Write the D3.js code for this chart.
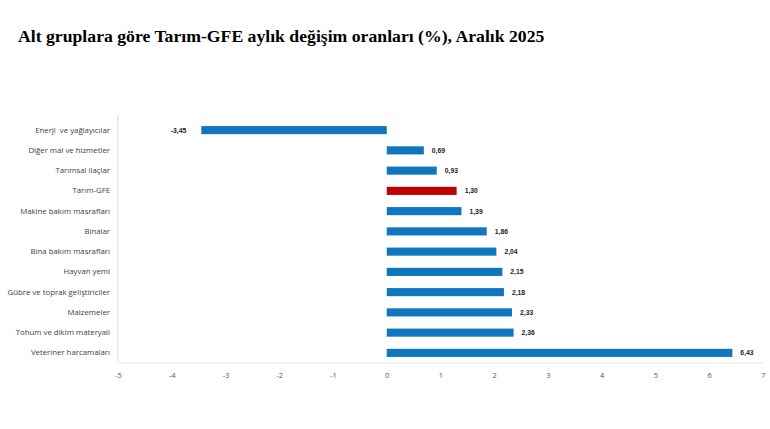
<!DOCTYPE html>
<html><head><meta charset="utf-8">
<script src="https://cdn.jsdelivr.net/npm/d3@7/dist/d3.min.js"></script>
<style>body{margin:0;background:#fff}</style>
</head><body>
<svg id="c" width="770" height="429"></svg>
<script>
const categories = ["Enerji  ve yağlayıcılar","Diğer mal ve hizmetler","Tarımsal ilaçlar","Tarım-GFE","Makine bakım masrafları","Binalar","Bina bakım masrafları","Hayvan yemi","Gübre ve toprak geliştiriciler","Malzemeler","Tohum ve dikim materyali","Veteriner harcamaları"];
const values = [-3.45,0.69,0.93,1.30,1.39,1.86,2.04,2.15,2.18,2.33,2.36,6.43];
const highlight = "Tarım-GFE";
const xTicks = [-5,-4,-3,-2,-1,0,1,2,3,4,5,6,7];
const title = "Alt gruplara göre Tarım-GFE aylık değişim oranları (%), Aralık 2025";

const svg = d3.select("#c");
svg.append("text").attr("x",18).attr("y",42)
  .attr("font-family","Liberation Serif, Times New Roman, serif")
  .attr("font-weight","bold").attr("font-size",17.7).attr("fill","#000").text(title);

const pL=118,pR=763,pT=120,pB=363;
const x = d3.scaleLinear().domain([-5,7]).range([pL,pR]);
const y = d3.scaleBand().domain(categories).range([pT,pB]).paddingInner(0.6).paddingOuter(0.3);
const fmt = v => d3.format(".2f")(v).replace("−","-").replace(".",",");

svg.append("line").attr("x1",pL).attr("x2",pL).attr("y1",pT-5).attr("y2",pB).attr("stroke","#d9d9d9");
svg.append("line").attr("x1",pL).attr("x2",pR).attr("y1",pB).attr("y2",pB).attr("stroke","#e6e6e6");

const xa = svg.append("g").attr("transform",`translate(0,${pB})`)
  .call(d3.axisBottom(x).tickValues(xTicks).tickSize(0).tickPadding(10).tickFormat(d=>String(d)));
xa.select(".domain").remove();
xa.selectAll("text").attr("font-family","Open Sans, sans-serif").attr("font-size",7.5).attr("fill","#555");

const ya = svg.append("g").attr("transform",`translate(${pL},0)`)
  .call(d3.axisLeft(y).tickSize(0).tickPadding(8));
ya.select(".domain").remove();
ya.selectAll("text").attr("font-family","Open Sans, sans-serif").attr("font-size",7.8)
  .attr("fill","#404040").style("white-space","pre");

const data = categories.map((c,i)=>({c,v:values[i]}));
svg.selectAll("rect.b").data(data).join("rect")
  .attr("x",d=>x(Math.min(0,d.v))).attr("width",d=>Math.abs(x(d.v)-x(0)))
  .attr("y",d=>y(d.c)).attr("height",y.bandwidth())
  .attr("fill",d=>d.c===highlight?"#c00000":"#0e77bd");

svg.selectAll("text.v").data(data).join("text")
  .attr("x",d=>d.v<0?x(d.v)-15:x(d.v)+8)
  .attr("y",d=>y(d.c)+y.bandwidth()/2).attr("dy","0.35em")
  .attr("text-anchor",d=>d.v<0?"end":"start")
  .attr("font-family","Arial, Liberation Sans, sans-serif").attr("font-weight","bold")
  .attr("font-size",6.8).attr("fill","#222").text(d=>fmt(d.v));
</script>
</body></html>
